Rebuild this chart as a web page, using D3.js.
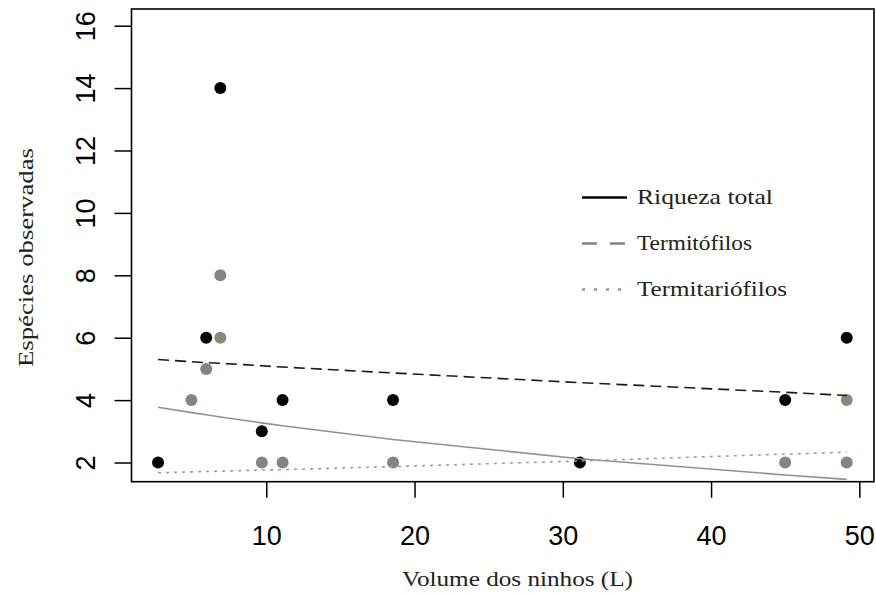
<!DOCTYPE html>
<html>
<head>
<meta charset="utf-8">
<script src="https://cdn.jsdelivr.net/npm/d3@7"></script>
<style>
  body { margin: 0; background: #fff; }
  svg { display: block; }
</style>
</head>
<body>
<svg></svg>
<script>
// nest volumes (L) and observed species per group
const volume = [2.7, 4.95, 5.95, 6.9, 9.7, 11.1, 18.55, 31.15, 45.0, 49.15];

const riquezaVol = [2.7, 5.95, 6.9, 9.7, 11.1, 18.55, 31.15, 45.0, 49.15];
const riqueza = [2, 6, 14, 3, 4, 4, 2, 4, 6];

const termitofilosVol = [4.95, 5.95, 6.9, 9.7, 11.1, 18.55, 45.0, 49.15];
const termitofilos = [4, 5, 8, 2, 2, 2, 2, 2];

const termitariofilosVol = [6.9, 49.15];
const termitariofilos = [6, 4];

// fitted curves, one value per volume
const fitDashed = [5.30, 5.23, 5.20, 5.18, 5.10, 5.06, 4.87, 4.56, 4.25, 4.15];
const fitSolid = [3.77, 3.60, 3.53, 3.46, 3.27, 3.18, 2.74, 2.12, 1.60, 1.46];
const fitDotted = [1.67, 1.70, 1.71, 1.72, 1.76, 1.77, 1.87, 2.05, 2.27, 2.33];

const xTicks = [10, 20, 30, 40, 50];
const yTicks = [2, 4, 6, 8, 10, 12, 14, 16];

const legendLabels = ["Riqueza total", "Termitófilos", "Termitariófilos"];
const legendWidths = [136, 115, 150];   // measured text widths (px)

const margin = {top: 9, right: 2, bottom: 111.3, left: 131.5},
    width = 876 - margin.left - margin.right,
    height = 593 - margin.top - margin.bottom;

const svg = d3.select("svg")
    .attr("width", 876)
    .attr("height", 593)
    .append("g")
    .attr("transform", `translate(${margin.left},${margin.top})`);

const x = d3.scaleLinear()
    .domain([0.91, 50.99])
    .range([0, width]);

const y = d3.scaleLinear()
    .domain([1.385, 16.535])
    .range([height, 0]);

const serif = "Liberation Serif, Times New Roman, serif";

// x axis
const xAxis = svg.append("g")
    .attr("transform", `translate(0,${height})`)
    .call(d3.axisBottom(x).tickValues(xTicks).tickSize(16).tickSizeOuter(0).tickFormat(d3.format("d")));
xAxis.select(".domain").remove();
xAxis.selectAll("line").attr("stroke", "#000").attr("stroke-width", 1.5);
xAxis.selectAll("text")
    .attr("y", 63)
    .attr("dy", 0)
    .style("font-family", "Liberation Sans, Arial, sans-serif")
    .style("font-size", "27px")
    .attr("fill", "#000");

// y axis, labels parallel to the axis
const yAxis = svg.append("g")
    .call(d3.axisLeft(y).tickValues(yTicks).tickSize(17).tickSizeOuter(0).tickFormat(d3.format("d")));
yAxis.select(".domain").remove();
yAxis.selectAll("line").attr("stroke", "#000").attr("stroke-width", 1.5);
yAxis.selectAll("text")
    .attr("x", 0)
    .attr("dy", 0)
    .attr("text-anchor", "middle")
    .attr("transform", "translate(-37,0) rotate(-90)")
    .style("font-family", "Liberation Sans, Arial, sans-serif")
    .style("font-size", "27px")
    .attr("fill", "#000");

// points
function drawPoints(xs, ys, color) {
    svg.append("g")
        .selectAll("circle")
        .data(ys.map((v, i) => [xs[i], v]))
        .enter()
        .append("circle")
        .attr("cx", d => x(d[0]))
        .attr("cy", d => y(d[1]))
        .attr("r", 6)
        .attr("fill", color);
}
drawPoints(riquezaVol, riqueza, "#000");
drawPoints(termitofilosVol, termitofilos, "#7d8785");
drawPoints(termitariofilosVol, termitariofilos, "#8c8877");

// fitted lines
const line = d3.line()
    .x(d => x(d[0]))
    .y(d => y(d[1]));

function drawLine(vals, color, dash) {
    svg.append("path")
        .datum(vals.map((v, i) => [volume[i], v]))
        .attr("d", line)
        .attr("fill", "none")
        .attr("stroke", color)
        .attr("stroke-width", 1.6)
        .attr("stroke-dasharray", dash);
}
drawLine(fitDashed, "#1a1a1a", "11,6");
drawLine(fitSolid, "#8a9592", null);
drawLine(fitDotted, "#a39e8c", "3,5");

// box
svg.append("rect")
    .attr("width", width)
    .attr("height", height)
    .attr("fill", "none")
    .attr("stroke", "#000")
    .attr("stroke-width", 1.6);

// legend
const legendStyles = [
    {color: "#000", dash: null, w: 2.6},
    {color: "#7d8785", dash: "15,13", w: 2.6},
    {color: "#9b9682", dash: "3,9", w: 2.6}
];
const legend = svg.append("g")
    .attr("transform", `translate(${582 - margin.left},${197.5 - margin.top})`);
legendLabels.forEach((lab, i) => {
    const g = legend.append("g").attr("transform", `translate(0,${i * 46})`);
    g.append("line")
        .attr("x1", 0).attr("x2", 45)
        .attr("stroke", legendStyles[i].color)
        .attr("stroke-width", legendStyles[i].w)
        .attr("stroke-dasharray", legendStyles[i].dash);
    g.append("text")
        .attr("x", 55)
        .attr("y", 6)
        .attr("textLength", legendWidths[i])
        .attr("lengthAdjust", "spacingAndGlyphs")
        .style("font-family", serif)
        .style("font-size", "21px")
        .attr("fill", "#222")
        .text(lab);
});

// axis titles
svg.append("text")
    .attr("x", (517.5 - margin.left))
    .attr("y", 586 - margin.top)
    .attr("text-anchor", "middle")
    .attr("textLength", 231)
    .attr("lengthAdjust", "spacingAndGlyphs")
    .style("font-family", serif)
    .style("font-size", "21px")
    .attr("fill", "#222")
    .text("Volume dos ninhos (L)");

svg.append("text")
    .attr("transform", `translate(${33 - margin.left},${257.5 - margin.top}) rotate(-90)`)
    .attr("text-anchor", "middle")
    .attr("textLength", 219)
    .attr("lengthAdjust", "spacingAndGlyphs")
    .style("font-family", serif)
    .style("font-size", "21px")
    .attr("fill", "#222")
    .text("Espécies observadas");
</script>
</body>
</html>
